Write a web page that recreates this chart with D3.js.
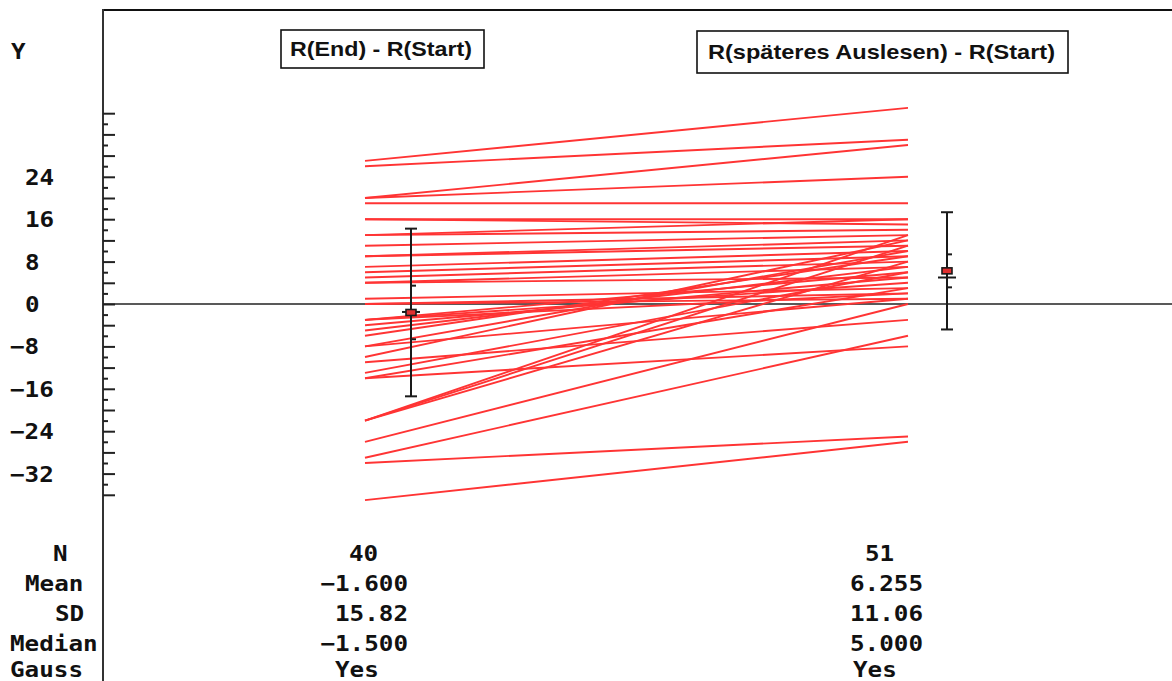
<!DOCTYPE html>
<html>
<head>
<meta charset="utf-8">
<script src="https://cdn.jsdelivr.net/npm/d3@7"></script>
<style>
  html, body { margin: 0; padding: 0; background: #fff; }
  svg { display: block; }
  .mono { font-family: "DejaVu Sans Mono", "Liberation Mono", monospace; font-weight: bold; font-size: 21px; fill: #111; }
  .title { font-family: "Liberation Sans Narrow", "Liberation Sans", Arial, sans-serif; font-weight: bold; font-size: 21px; fill: #111; }
</style>
</head>
<body>
<svg id="chart" width="1172" height="681"></svg>
<script>
// Groups (column headers)
const categories = ["R(End) - R(Start)", "R(späteres Auslesen) - R(Start)"];

// Paired values: start of each line (first column) and end (second column)
const startValues = [27, 26, 20, 20, 19, 16, 16, 13, 13, 11, 9, 9, 7, 6, 5, 4, 4, 1, 0, 0,
                     -3, -3, -3, -4, -5, -6, -8, -8, -10, -11, -13, -14, -14, -22, -22, -22, -26, -29, -30, -37];
const endValues   = [37, 31, 30, 24, 19, 16, 15, 14, 16, 13, 12, 11, 10, 9, 8, 7, 5, 3, 1, 2,
                     6, 4, 2, 5, 7, 9, 10, 1, 12, -3, 6, -8, 3, 13, 11, 8, 0, -6, -25, -26];

// Summary statistics per column
const statLabels = ["N", "Mean", "SD", "Median", "Gauss"];
const statN      = [40, 51];
const statMean   = [-1.600, 6.255];
const statSD     = [15.82, 11.06];
const statMedian = [-1.500, 5.000];
const statGauss  = ["Yes", "Yes"];

// Axis ticks
const majorTicks = d3.range(-36, 37, 4);
const minorTicks = d3.range(-34, 35, 4);
const tickLabels = [24, 16, 8, 0, -8, -16, -24, -32];

const svg = d3.select("#chart");
const W = 1172, H = 681;
const axisX = 103;

const y = d3.scaleLinear().domain([-36, 36]).range([494.8, 113.2]);
const x = d3.scalePoint().domain(categories).range([365, 908]);
const barOffset = [46, 39];

const CH = 14.6; // character advance of the monospace labels
function monoText(g, str, x0, yb) {
  g.append("text").attr("class", "mono")
    .attr("x", x0).attr("y", yb)
    .attr("textLength", str.length * CH)
    .attr("lengthAdjust", "spacingAndGlyphs")
    .text(str);
}
// number -> text with a full-width minus sign, fixed decimals
const fmt = (v, dec) => (v < 0 ? "\u2212" : "") + Math.abs(v).toFixed(dec || 0);

// Frame: top border and left axis line
svg.append("line").attr("x1", axisX).attr("x2", W).attr("y1", 10).attr("y2", 10)
  .attr("stroke", "#111").attr("stroke-width", 2);
svg.append("line").attr("x1", axisX).attr("x2", axisX).attr("y1", 9).attr("y2", H)
  .attr("stroke", "#333").attr("stroke-width", 2);

// Tick marks (inside the plot)
const major = svg.append("g").attr("transform", `translate(${axisX},0)`)
  .call(d3.axisRight(y).tickValues(majorTicks).tickSize(12).tickFormat(""));
const minor = svg.append("g").attr("transform", `translate(${axisX},0)`)
  .call(d3.axisRight(y).tickValues(minorTicks).tickSize(5).tickFormat(""));
[major, minor].forEach(g => {
  g.select(".domain").remove();
  g.selectAll(".tick line").attr("stroke", "#222").attr("stroke-width", 2);
});

// Tick labels and axis title
const lab = svg.append("g");
tickLabels.forEach(v => monoText(lab, fmt(v), v < 0 ? 10 : 25, y(v) + 8));
monoText(lab, "Y", 11, 59);

// Zero line
svg.append("line").attr("x1", axisX).attr("x2", W).attr("y1", y(0)).attr("y2", y(0))
  .attr("stroke", "#222").attr("stroke-width", 1.6);

// Paired lines
const pairs = startValues.map((s, i) => [s, endValues[i]]);
svg.append("g").selectAll("line").data(pairs).join("line")
  .attr("x1", x(categories[0])).attr("x2", x(categories[1]))
  .attr("y1", d => y(d[0])).attr("y2", d => y(d[1]))
  .attr("stroke", "#ff3434").attr("stroke-width", 1.9);

// Mean ± SD bars with 95% CI ticks and median line
const tcrit = [2.023, 2.009];
categories.forEach((c, i) => {
  const cx = x(c) + barOffset[i];
  const m = statMean[i], sd = statSD[i];
  const ci = tcrit[i] * sd / Math.sqrt(statN[i]);
  const g = svg.append("g").attr("stroke", "#1a1a1a").attr("stroke-width", 2);
  g.append("line").attr("x1", cx).attr("x2", cx).attr("y1", y(m + sd)).attr("y2", y(m - sd));
  [m + sd, m - sd].forEach(v =>
    g.append("line").attr("x1", cx - 6).attr("x2", cx + 6).attr("y1", y(v)).attr("y2", y(v)));
  [m + ci, m - ci].forEach(v =>
    g.append("line").attr("x1", cx).attr("x2", cx + 5).attr("y1", y(v)).attr("y2", y(v)));
  g.append("line").attr("x1", cx - 9).attr("x2", cx + 9)
    .attr("y1", y(statMedian[i])).attr("y2", y(statMedian[i]));
  svg.append("rect").attr("x", cx - 5).attr("y", y(m) - 3).attr("width", 10).attr("height", 6)
    .attr("fill", "#e03030").attr("stroke", "#1a1a1a").attr("stroke-width", 1.6);
});

// Column header boxes
const boxes = [
  {x0: 281, x1: 484, y0: 30, y1: 68, tx: 290, tw: 182},
  {x0: 697, x1: 1068, y0: 31, y1: 73, tx: 708, tw: 347}
];
categories.forEach((c, i) => {
  const b = boxes[i];
  svg.append("rect").attr("x", b.x0).attr("y", b.y0)
    .attr("width", b.x1 - b.x0).attr("height", b.y1 - b.y0)
    .attr("fill", "#fff").attr("stroke", "#111").attr("stroke-width", 1.6);
  svg.append("text").attr("class", "title")
    .attr("x", b.tx).attr("y", (b.y0 + b.y1) / 2 + 7)
    .attr("textLength", b.tw).attr("lengthAdjust", "spacingAndGlyphs")
    .text(c);
});

// Statistics table
const rowBase = [561, 591, 621, 651, 677];
const labelX = [53, 25, 55, 10, 10];
const st = svg.append("g");
statLabels.forEach((s, r) => monoText(st, s, labelX[r], rowBase[r]));
const colRows = [
  statN.map(String),
  statMean.map(v => fmt(v, 3)),
  statSD.map(v => fmt(v, 2)),
  statMedian.map(v => fmt(v, 3)),
  statGauss
];
const colRight = [408, 923];
const colStart = [[349, 865], null, null, null, [335, 853]];
colRows.forEach((vals, r) => {
  vals.forEach((s, ci) => {
    const x0 = colStart[r] ? colStart[r][ci] : colRight[ci] - s.length * CH;
    monoText(st, s, x0, rowBase[r]);
  });
});
</script>
</body>
</html>
